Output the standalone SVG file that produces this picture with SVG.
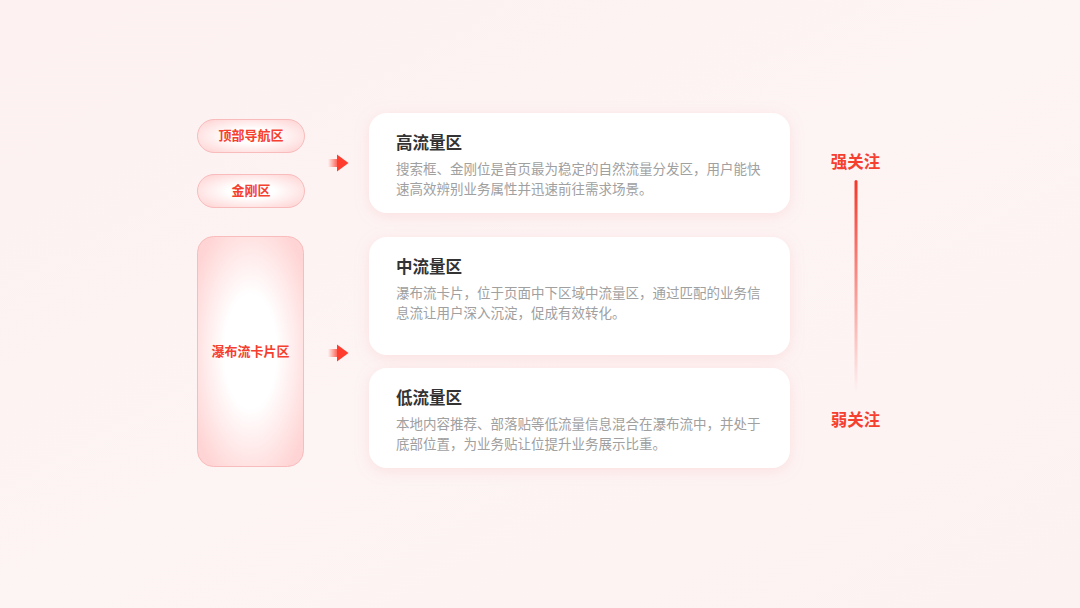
<svg xmlns="http://www.w3.org/2000/svg" width="1080" height="608" viewBox="0 0 1080 608">
<defs>
<linearGradient id="bg" x1="0" y1="0" x2="1" y2="1">
<stop offset="0" stop-color="#fdf1f1"/>
<stop offset="0.5" stop-color="#fdf4f4"/>
<stop offset="1" stop-color="#fdf2f2"/>
</linearGradient>
<radialGradient id="pillFill" cx="0.5" cy="0.5" r="0.62">
<stop offset="0.35" stop-color="#ffffff"/>
<stop offset="1" stop-color="#ffd6d6"/>
</radialGradient>
<radialGradient id="tallFill" cx="0.5" cy="0.5" r="0.62">
<stop offset="0.4" stop-color="#ffffff"/>
<stop offset="1" stop-color="#ffd4d4"/>
</radialGradient>
<linearGradient id="arrowTail" x1="0" y1="0" x2="1" y2="0">
<stop offset="0" stop-color="#ff4a3a" stop-opacity="0"/>
<stop offset="1" stop-color="#ff4a3a"/>
</linearGradient>
<linearGradient id="scale" x1="0" y1="0" x2="0" y2="1">
<stop offset="0" stop-color="#f5372a"/>
<stop offset="1" stop-color="#f5372a" stop-opacity="0"/>
</linearGradient>
<filter id="shadow" x="-10%" y="-25%" width="120%" height="160%">
<feDropShadow dx="0" dy="3" stdDeviation="7" flood-color="#f7a5a5" flood-opacity="0.25"/>
</filter>
</defs>
<style>
.pill{stroke:#f9bcbc;stroke-width:1;}
.pilltxt{font-family:"Noto Sans CJK SC",sans-serif;font-size:13px;font-weight:700;fill:#f5402f;text-anchor:middle;}
.card{fill:#ffffff;filter:url(#shadow);}
.title{font-family:"Noto Sans CJK SC",sans-serif;font-size:16.5px;font-weight:700;fill:#333333;}
.desc{font-family:"Noto Sans CJK SC",sans-serif;font-size:13.5px;fill:#a0a0a0;}
.level{font-family:"Noto Sans CJK SC",sans-serif;font-size:16.5px;font-weight:700;fill:#f5402f;text-anchor:middle;}
</style>
<rect width="1080" height="608" fill="url(#bg)"/>

<g id="pill-top-nav">
<rect class="pill" x="197.5" y="119.5" width="107" height="33" rx="16.5" fill="url(#pillFill)"/>
<text class="pilltxt" x="251" y="140">顶部导航区</text>
</g>
<g id="pill-jingang">
<rect class="pill" x="197.5" y="174.5" width="107" height="33" rx="16.5" fill="url(#pillFill)"/>
<text class="pilltxt" x="251" y="195">金刚区</text>
</g>
<g id="pill-waterfall">
<rect class="pill" x="197.5" y="236.5" width="106" height="230" rx="16" fill="url(#tallFill)"/>
<text class="pilltxt" x="250.5" y="356">瀑布流卡片区</text>
</g>

<g id="connectors">
<g id="arrow-1">
<rect x="328" y="159" width="11" height="8" fill="url(#arrowTail)"/>
<polygon points="337,154.5 348.5,163 337,171.5" fill="#ff3d2e"/>
</g>
<g id="arrow-2">
<rect x="328" y="349" width="11" height="8" fill="url(#arrowTail)"/>
<polygon points="337,344.5 348.5,353 337,361.5" fill="#ff3d2e"/>
</g>
</g>

<g id="card-high">
<rect class="card" x="369" y="113" width="421" height="100" rx="18"/>
<text class="title" x="396" y="148.5">高流量区</text>
<text class="desc" x="396" y="174">搜索框、金刚位是首页最为稳定的自然流量分发区，用户能快</text>
<text class="desc" x="396" y="193.5">速高效辨别业务属性并迅速前往需求场景。</text>
</g>
<g id="card-mid">
<rect class="card" x="369" y="237" width="421" height="118" rx="18"/>
<text class="title" x="396" y="272.5">中流量区</text>
<text class="desc" x="396" y="298">瀑布流卡片，位于页面中下区域中流量区，通过匹配的业务信</text>
<text class="desc" x="396" y="317.5">息流让用户深入沉淀，促成有效转化。</text>
</g>
<g id="card-low">
<rect class="card" x="369" y="368" width="421" height="100" rx="18"/>
<text class="title" x="396" y="403.5">低流量区</text>
<text class="desc" x="396" y="429">本地内容推荐、部落贴等低流量信息混合在瀑布流中，并处于</text>
<text class="desc" x="396" y="448.5">底部位置，为业务贴让位提升业务展示比重。</text>
</g>

<g id="scale">
<text class="level" x="855.5" y="167.5">强关注</text>
<rect x="854.5" y="180" width="3" height="212" rx="1.5" fill="url(#scale)"/>
<text class="level" x="855.5" y="425.5">弱关注</text>
</g>
</svg>
